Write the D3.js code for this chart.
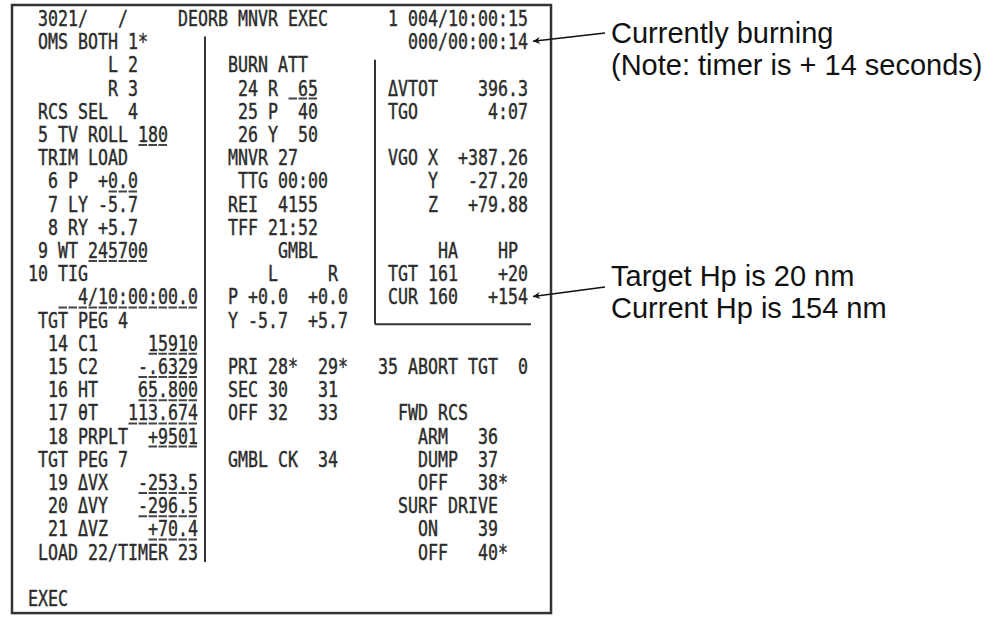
<!DOCTYPE html>
<html>
<head>
<meta charset="utf-8">
<script src="https://cdn.jsdelivr.net/npm/d3@7/dist/d3.min.js"></script>
<style>
  body { margin: 0; background: #fff; }
  svg { display: block; }
</style>
</head>
<body>
<div id="display"></div>
<script>
      var width = 995;
      var height = 617;

      // display text, one entry per string: [row, col, text]
      var headerLines = [
        [0, 1, "3021/"], [0, 9, "/"], [0, 15, "DEORB MNVR EXEC"], [0, 36, "1 004/10:00:15"],
        [1, 38, "000/00:00:14"]
      ];
      var leftLines = [
        [1, 1, "OMS BOTH 1*"], [2, 8, "L 2"], [3, 8, "R 3"], [4, 1, "RCS SEL  4"],
        [5, 1, "5 TV ROLL 180"], [6, 1, "TRIM LOAD"],
        [7, 2, "6 P  +0.0"], [8, 2, "7 LY -5.7"], [9, 2, "8 RY +5.7"],
        [10, 1, "9 WT 245700"], [11, 0, "10 TIG"], [12, 5, "4/10:00:00.0"],
        [13, 1, "TGT PEG 4"],
        [14, 2, "14 C1"], [14, 12, "15910"],
        [15, 2, "15 C2"], [15, 11, "-.6329"],
        [16, 2, "16 HT"], [16, 11, "65.800"],
        [17, 2, "17 θT"], [17, 10, "113.674"],
        [18, 2, "18 PRPLT  +9501"],
        [19, 1, "TGT PEG 7"],
        [20, 2, "19 ΔVX"], [20, 11, "-253.5"],
        [21, 2, "20 ΔVY"], [21, 11, "-296.5"],
        [22, 2, "21 ΔVZ"], [22, 12, "+70.4"],
        [23, 1, "LOAD 22/TIMER 23"],
        [25, 0, "EXEC"]
      ];
      var midLines = [
        [2, 20, "BURN ATT"], [3, 21, "24 R  65"], [4, 21, "25 P  40"], [5, 21, "26 Y  50"],
        [6, 20, "MNVR 27"], [7, 21, "TTG 00:00"], [8, 20, "REI  4155"], [9, 20, "TFF 21:52"],
        [10, 25, "GMBL"], [11, 24, "L"], [11, 30, "R"],
        [12, 20, "P +0.0  +0.0"], [13, 20, "Y -5.7  +5.7"],
        [15, 20, "PRI 28*  29*   35 ABORT TGT  0"], [16, 20, "SEC 30   31"], [17, 20, "OFF 32   33"],
        [19, 20, "GMBL CK  34"]
      ];
      var rightLines = [
        [3, 36, "ΔVTOT"], [3, 45, "396.3"], [4, 36, "TGO"], [4, 46, "4:07"],
        [6, 36, "VGO X"], [6, 43, "+387.26"], [7, 40, "Y"], [7, 44, "-27.20"],
        [8, 40, "Z"], [8, 44, "+79.88"],
        [10, 41, "HA"], [10, 47, "HP"],
        [11, 36, "TGT 161"], [11, 47, "+20"], [12, 36, "CUR 160"], [12, 46, "+154"],
        [17, 37, "FWD RCS"], [18, 39, "ARM"], [18, 45, "36"],
        [19, 39, "DUMP"], [19, 45, "37"], [20, 39, "OFF"], [20, 45, "38*"],
        [21, 37, "SURF DRIVE"], [22, 39, "ON"], [22, 45, "39"], [23, 39, "OFF"], [23, 45, "40*"]
      ];
      // underlined entry fields: [row, col, length]
      var entryFields = [
        [5, 11, 3], [3, 26, 3], [7, 8, 3], [10, 6, 6], [12, 3, 14],
        [14, 12, 5], [15, 11, 6], [16, 11, 6], [17, 10, 7], [18, 12, 5],
        [20, 11, 6], [21, 11, 6], [22, 12, 5]
      ];
      // call-outs on the right, each pointing at a display row
      var burnNote = ["Currently burning", "(Note: timer is + 14 seconds)"];
      var hpNote = ["Target Hp is 20 nm", "Current Hp is 154 nm"];
      var noteRows = [1, 12];

      var svg = d3.select('#display').append('svg')
          .attr('width', width)
          .attr('height', height);

      // character grid: 51 columns x 26 rows
      var xScale = d3.scaleLinear().domain([0, 50]).range([28, 528]);
      var yScale = d3.scaleLinear().domain([0, 25]).range([18, 598]);
      var colW = xScale(1) - xScale(0);

      var ink = '#2c2c2c';

      // outer frame and separators (in grid units)
      svg.append('rect')
          .attr('x', xScale(-1.6)).attr('y', yScale(-0.56))
          .attr('width', xScale(52.3) - xScale(-1.6))
          .attr('height', yScale(25.65) - yScale(-0.56))
          .attr('fill', 'none').attr('stroke', '#333').attr('stroke-width', 2.5);

      var rules = [
        [17.7, 0.8, 17.7, 23.45],
        [34.7, 1.8, 34.7, 13.2],
        [34.7, 13.2, 50.3, 13.2]
      ];
      svg.append('g').selectAll('line')
          .data(rules)
          .enter()
          .append('line')
              .attr('x1', d => xScale(d[0])).attr('y1', d => yScale(d[1]))
              .attr('x2', d => xScale(d[2])).attr('y2', d => yScale(d[3]))
              .attr('stroke', '#333').attr('stroke-width', 2);

      // display text, squeezed so each character takes exactly one column
      var allLines = headerLines.concat(leftLines, midLines, rightLines);
      svg.append('g')
          .selectAll('text')
          .data(allLines)
          .enter()
          .append('text')
              .attr('xml:space', 'preserve')
              .style('white-space', 'pre')
              .attr('x', d => xScale(d[1]))
              .attr('y', d => yScale(d[0]))
              .attr('dy', '0.36em')
              .attr('textLength', d => d[2].length * colW)
              .attr('lengthAdjust', 'spacingAndGlyphs')
              .style('font-family', '"DejaVu Sans Mono", monospace')
              .style('font-size', '22px')
              .attr('fill', ink)
              .attr('stroke', ink)
              .attr('stroke-width', 0.45)
              .text(d => d[2]);

      // dashed underline under each entry field
      svg.append('g')
          .selectAll('line')
          .data(entryFields)
          .enter()
          .append('line')
              .attr('x1', d => xScale(d[1]) + 0.5)
              .attr('x2', d => xScale(d[1] + d[2]))
              .attr('y1', d => yScale(d[0]) + 11)
              .attr('y2', d => yScale(d[0]) + 11)
              .attr('stroke', '#444')
              .attr('stroke-width', 2)
              .attr('stroke-dasharray', (colW - 1.5) + ',1.5');

      // arrows for the notes
      svg.append('defs').append('marker')
          .attr('id', 'head')
          .attr('viewBox', '0 0 10 10')
          .attr('refX', 10).attr('refY', 5)
          .attr('markerWidth', 13).attr('markerHeight', 7)
          .attr('markerUnits', 'userSpaceOnUse')
          .attr('orient', 'auto')
          .append('path')
              .attr('d', 'M0,0 L10,5 L0,10 L3,5 Z')
              .attr('fill', '#111');

      var notes = [
        {lines: burnNote, top: 43, row: noteRows[0], from: 33},
        {lines: hpNote, top: 286, row: noteRows[1], from: 287}
      ];
      var noteX = 611;
      notes.forEach(function (n) {
        svg.append('line')
            .attr('x1', noteX - 6).attr('y1', n.from)
            .attr('x2', xScale(50.5)).attr('y2', yScale(n.row))
            .attr('stroke', '#111').attr('stroke-width', 1.5)
            .attr('marker-end', 'url(#head)');
        svg.append('g').selectAll('text')
            .data(n.lines)
            .enter()
            .append('text')
                .attr('x', noteX)
                .attr('y', (d, i) => n.top + i * 32)
                .style('font-family', '"Liberation Sans", Arial, sans-serif')
                .style('font-size', '29px')
                .attr('fill', '#111')
                .text(d => d);
      });
</script>
</body>
</html>
